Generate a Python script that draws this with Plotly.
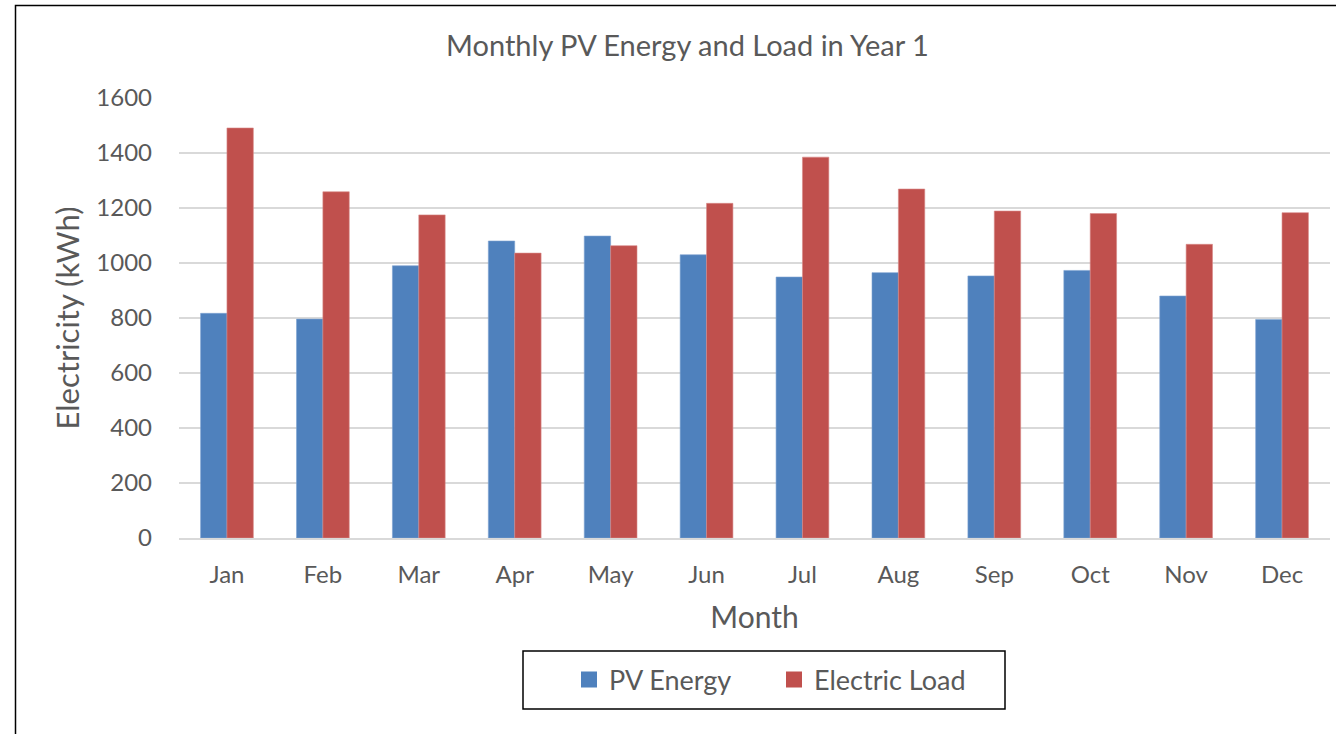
import plotly.graph_objects as go

months = ["Jan", "Feb", "Mar", "Apr", "May", "Jun", "Jul", "Aug", "Sep", "Oct", "Nov", "Dec"]
pv_energy = [817, 796, 990, 1080, 1098, 1030, 949, 965, 953, 973, 880, 795]
electric_load = [1491, 1259, 1175, 1036, 1063, 1217, 1385, 1269, 1189, 1180, 1068, 1183]

FONT = "Lato"
GREY = "#595959"
BLUE = "#4f81bd"
RED = "#c0504d"

W, H = 1336, 734
plot_left, plot_right, plot_top, plot_bottom = 179, 1330, 98, 538
L, T = plot_left, plot_top
R = W - plot_right
B = H - plot_bottom
pw, ph = W - L - R, H - T - B


def px(x):
    return (x - plot_left) / pw


def py(y):
    return (plot_bottom - y) / ph


fig = go.Figure()
fig.add_trace(go.Bar(name="PV Energy", x=months, y=pv_energy, showlegend=False,
                     marker=dict(color=BLUE, line=dict(color="#7ea2d2", width=0.6))))
fig.add_trace(go.Bar(name="Electric Load", x=months, y=electric_load, showlegend=False,
                     marker=dict(color=RED, line=dict(color="#d98a88", width=0.6))))
# legend entries with larger square swatches
fig.add_trace(go.Scatter(name="PV Energy", x=[None], y=[None], mode="markers",
                         marker=dict(symbol="square", size=16, color=BLUE)))
fig.add_trace(go.Scatter(name="Electric Load", x=[None], y=[None], mode="markers",
                         marker=dict(symbol="square", size=16, color=RED)))

fig.update_layout(
    width=W, height=H,
    margin=dict(l=L, r=R, t=T, b=B),
    paper_bgcolor="white", plot_bgcolor="white",
    barmode="group", bargap=0.45, bargroupgap=0,
    font=dict(family=FONT, color=GREY),
    title=dict(text="Monthly PV Energy and Load in Year 1", x=px(687.5), xanchor="center",
               xref="paper", y=1 - 46 / H, yanchor="middle",
               font=dict(size=29, color=GREY, family=FONT)),
    showlegend=True,
    legend=dict(orientation="h", x=px(569), xanchor="left", y=py(680), yanchor="middle",
                font=dict(size=27, color=GREY, family=FONT),
                entrywidth=160, entrywidthmode="pixels", itemsizing="trace",
                bgcolor="rgba(0,0,0,0)", borderwidth=0),
    shapes=[
        dict(type="rect", xref="paper", yref="paper",
             x0=px(15.5), x1=px(1350), y0=py(750), y1=py(5.5),
             line=dict(color="black", width=1.5), fillcolor="rgba(0,0,0,0)", layer="below"),
        dict(type="rect", xref="paper", yref="paper",
             x0=px(523), x1=px(1005), y0=py(709), y1=py(651),
             line=dict(color="black", width=1.5), fillcolor="rgba(0,0,0,0)", layer="above"),
    ],
)

fig.update_yaxes(range=[0, 1600], dtick=200, showgrid=True, gridcolor="#d9d9d9", gridwidth=1.5,
                 zeroline=False, showline=False, ticks="", ticklabelstandoff=26,
                 tickfont=dict(size=24, color=GREY, family=FONT),
                 title=dict(text="Electricity (kWh)", font=dict(size=31, color=GREY, family=FONT),
                            standoff=7))
fig.update_xaxes(showline=True, linecolor="#d9d9d9", linewidth=1.5, ticks="",
                 ticklabelstandoff=14, range=[-0.5, 11.5],
                 tickfont=dict(size=24, color=GREY, family=FONT),
                 title=dict(text="Month", font=dict(size=30, color=GREY, family=FONT),
                            standoff=20))

fig.write_html("out.html",
               config={"displayModeBar": False},
               post_script="document.body.style.margin='0';document.body.style.overflow='hidden';")
